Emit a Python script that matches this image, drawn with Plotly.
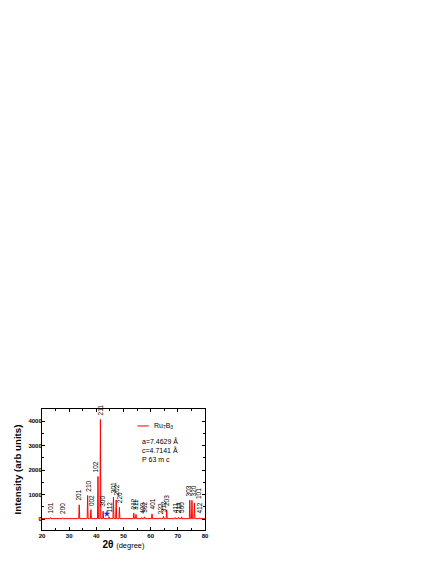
import plotly.graph_objects as go

# peak positions (2theta), intensities and Miller indices
peak_pos = [23.1, 27.6, 33.7, 36.8, 38.0, 40.6, 41.5, 42.5, 44.7, 46.3, 47.3, 48.5,
            53.8, 54.6, 56.7, 57.7, 60.5, 63.4, 64.7, 65.9, 69.0, 70.2, 71.4,
            74.4, 75.2, 76.1, 77.9]
peak_int = [60, 50, 580, 960, 380, 1740, 4070, 320, 90, 890, 780, 480,
            240, 185, 60, 90, 210, 50, 110, 375, 60, 70, 90,
            770, 760, 650, 50]
peak_hkl = ['101', '200', '201', '210', '002', '102', '211', '300', '112', '301', '202', '220',
            '212', '311', '400', '302', '401', '222', '312', '203', '411', '213', '500',
            '303', '320', '101', '412']

impurity_x = [43.9]
impurity_y = [210]

x_ticks = [20, 30, 40, 50, 60, 70, 80]
y_ticks = [0, 1000, 2000, 3000, 4000]

FONT = 'Liberation Sans, Arial'
baseline = 15
half_w = 0.18

xs, ys = [20], [baseline]
for p, h in sorted(zip(peak_pos, peak_int)):
    xs += [p - half_w, p, p + half_w]
    ys += [baseline, h, baseline]
xs.append(80)
ys.append(baseline)

fig = go.Figure()

fig.add_trace(go.Scatter(
    x=xs, y=ys,
    mode='lines',
    line=dict(color='#ff0000', width=1),
    showlegend=False,
    hoverinfo='skip'
))

fig.add_trace(go.Scatter(
    x=impurity_x, y=impurity_y,
    mode='markers',
    marker=dict(symbol='star', size=5, color='#2020ff'),
    showlegend=False
))

# small horizontal nudges (px) so crowded labels don't overlap
nudge = {23: -1, 24: 1.5, 25: 4, 2: -1, 5: -1.5}

for i, (p, h, lab) in enumerate(zip(peak_pos, peak_int, peak_hkl)):
    fig.add_annotation(
        x=p, y=h, text=lab, showarrow=False, textangle=-90,
        xanchor='center', yanchor='bottom', yshift=2, xshift=nudge.get(i, 0),
        font=dict(family=FONT, size=6.5, color='black')
    )

# legend and lattice info
fig.add_shape(type='line', xref='paper', yref='paper',
              x0=0.585, x1=0.655, y0=0.86, y1=0.86,
              line=dict(color='#ff0000', width=1))
fig.add_annotation(xref='paper', yref='paper', x=0.675, y=0.86,
                   text='Ru<sub>7</sub>B<sub>3</sub>', showarrow=False,
                   xanchor='left', yanchor='middle',
                   font=dict(family=FONT, size=7, color='black'))
for i, t in enumerate(['a=7.4629 Å', 'c=4.7141 Å', 'P 63 m c']):
    fig.add_annotation(xref='paper', yref='paper', x=0.6, y=0.735 - i * 0.075,
                       text=t, showarrow=False, xanchor='left', yanchor='middle',
                       font=dict(family=FONT, size=7, color='black'))

axis_common = dict(
    showline=True, linecolor='black', linewidth=1, mirror='allticks',
    ticks='inside', ticklen=3, tickcolor='black', tickwidth=1,
    showgrid=False, zeroline=False, automargin=False,
    tickfont=dict(family=FONT, size=6, color='black'),
)

fig.update_xaxes(
    range=[20, 80],
    tickvals=x_ticks, ticktext=[f'<b>{v}</b>' for v in x_ticks],
    minor=dict(ticks='inside', ticklen=2, dtick=5, tick0=20, tickcolor='black'),
    title=dict(text='<b>2θ</b> <span style="font-size:7.5px">(degree)</span>',
               font=dict(family=FONT, size=10, color='black'),
               standoff=2),
    **axis_common
)
fig.update_yaxes(
    range=[-450, 4500],
    tickvals=y_ticks, ticktext=[f'<b>{v}</b>' for v in y_ticks],
    ticklabelstandoff=-2,
    minor=dict(ticks='inside', ticklen=2, dtick=500, tick0=0, tickcolor='black'),
    title=dict(text='<b>Intensity (arb units)</b>',
               font=dict(family=FONT, size=9.7, color='black'),
               standoff=5),
    **axis_common
)

# page body adds an 8px offset, so margins are shifted to compensate
fig.update_layout(
    width=436, height=564,
    margin=dict(l=34, r=239, t=401, b=42),
    paper_bgcolor='white', plot_bgcolor='white',
    showlegend=False
)

fig.write_html("out.html")
